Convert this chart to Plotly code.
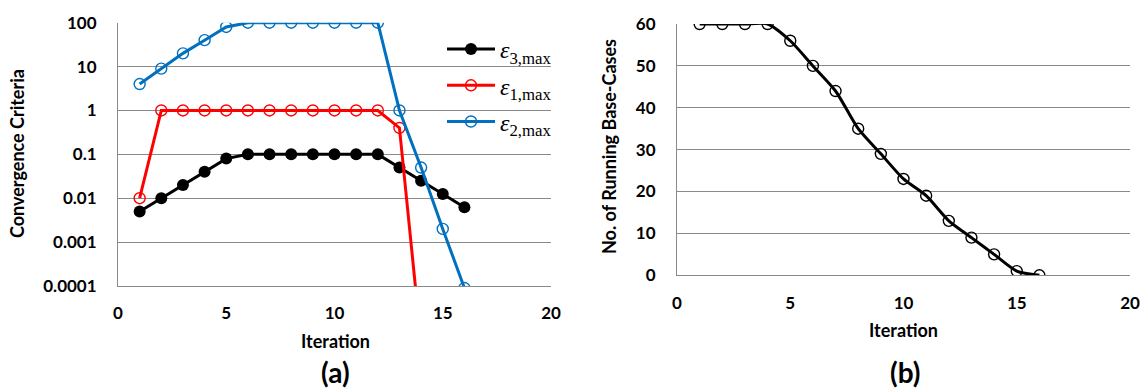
import plotly.graph_objects as go

# ---------------- data ----------------
iterations = list(range(1, 17))

# (a) convergence criteria (log scale)
eps3_max = [0.005, 0.01, 0.02, 0.04, 0.08, 0.1, 0.1, 0.1, 0.1, 0.1, 0.1, 0.1,
            0.05, 0.025, 0.0125, 0.0062]
eps1_x = list(range(1, 15))
eps1_max = [0.01, 1, 1, 1, 1, 1, 1, 1, 1, 1, 1, 1, 0.4, 0.000005]
eps2_max = [4, 9, 20, 40, 80, 100, 100, 100, 100, 100, 100, 100,
            1, 0.05, 0.002, 0.00009]

# (b) number of running base-cases
running_cases = [60, 60, 60, 60, 56, 50, 44, 35, 29, 23, 19, 13, 9, 5, 1, 0]

log_tickvals = [0.0001, 0.001, 0.01, 0.1, 1, 10, 100]
log_ticktext = ["0.0001", "0.001", "0.01", "0.1", "1", "10", "100"]
lin_tickvals = [0, 10, 20, 30, 40, 50, 60]
x_tickvals = [0, 5, 10, 15, 20]

# ---------------- styling ----------------
W, H = 1142, 388
GRID = "#8a8a8a"
SANS = "Lato"
tickfont = dict(family=SANS, size=17, color="black", weight="bold")

fig = go.Figure()

fig.add_trace(go.Scatter(
    x=iterations, y=eps3_max, mode="lines+markers",
    name="<i>ε</i><sub>3,max</sub>", legendgroup="a",
    line=dict(color="black", width=3),
    marker=dict(symbol="circle", size=12, color="black"),
    xaxis="x", yaxis="y"))
fig.add_trace(go.Scatter(
    x=eps1_x, y=eps1_max, mode="lines+markers",
    name="<i>ε</i><sub>1,max</sub>", legendgroup="b",
    line=dict(color="#ff0000", width=3),
    marker=dict(symbol="circle-open", size=11, color="#ff0000",
                line=dict(width=1.4)),
    xaxis="x", yaxis="y"))
fig.add_trace(go.Scatter(
    x=iterations, y=eps2_max, mode="lines+markers",
    name="<i>ε</i><sub>2,max</sub>", legendgroup="c",
    line=dict(color="#0070c0", width=3),
    marker=dict(symbol="circle-open", size=11, color="#0070c0",
                line=dict(width=1.4)),
    xaxis="x", yaxis="y"))

fig.add_trace(go.Scatter(
    x=iterations, y=running_cases, mode="lines+markers", showlegend=False,
    line=dict(color="black", width=3, shape="spline", smoothing=0.7),
    marker=dict(symbol="circle-open", size=11, color="black",
                line=dict(width=1.4)),
    xaxis="x2", yaxis="y2"))

xa = dict(range=[0, 20], tickvals=x_tickvals, showgrid=False, zeroline=False,
          showline=True, linecolor=GRID, linewidth=1, ticks="",
          tickfont=tickfont, ticklabelstandoff=12, fixedrange=True,
          automargin=False)

fig.update_layout(
    template="none",
    width=W, height=H,
    margin=dict(l=0, r=0, t=0, b=0, pad=0, autoexpand=False),
    paper_bgcolor="white", plot_bgcolor="white",
    showlegend=True,
    legend=dict(x=442 / W, y=1 - 27 / H, xanchor="left", yanchor="top",
                bgcolor="rgba(0,0,0,0)", borderwidth=0, tracegroupgap=2,
                itemwidth=48,
                font=dict(family="Liberation Serif", size=24, color="black")),
    xaxis=dict(domain=[118 / W, 551 / W], anchor="y", **xa),
    yaxis=dict(domain=[1 - 286 / H, 1 - 22.7 / H], anchor="x", type="log",
               range=[-4, 2], tickvals=log_tickvals, ticktext=log_ticktext,
               showgrid=True, gridcolor=GRID, gridwidth=1, zeroline=False,
               showline=True, linecolor=GRID, linewidth=1, ticks="",
               tickfont=tickfont, ticklabelstandoff=17, fixedrange=True,
               automargin=False),
    xaxis2=dict(domain=[677 / W, 1130 / W], anchor="y2", **xa),
    yaxis2=dict(domain=[1 - 275.3 / H, 1 - 24 / H], anchor="x2",
                range=[0, 60], tickvals=lin_tickvals,
                showgrid=True, gridcolor=GRID, gridwidth=1, zeroline=False,
                showline=True, linecolor=GRID, linewidth=1, ticks="",
                tickfont=tickfont, ticklabelstandoff=17, fixedrange=True,
                automargin=False),
)

def ann(text, x, y, size=18, angle=0):
    fig.add_annotation(text=text, x=x / W, y=1 - y / H, xref="paper",
                       yref="paper", showarrow=False, textangle=angle,
                       xanchor="center", yanchor="middle",
                       font=dict(family=SANS, size=size, color="black",
                                 weight="bold"))

ann("Convergence Criteria", 17, 154, angle=-90)
ann("No. of Running Base-Cases", 609, 147, angle=-90)
ann("Iteration", 335, 341)
ann("Iteration", 903, 330)
ann("(a)", 335, 372, size=28)
ann("(b)", 905, 372, size=28)

fig.write_html("out.html")
